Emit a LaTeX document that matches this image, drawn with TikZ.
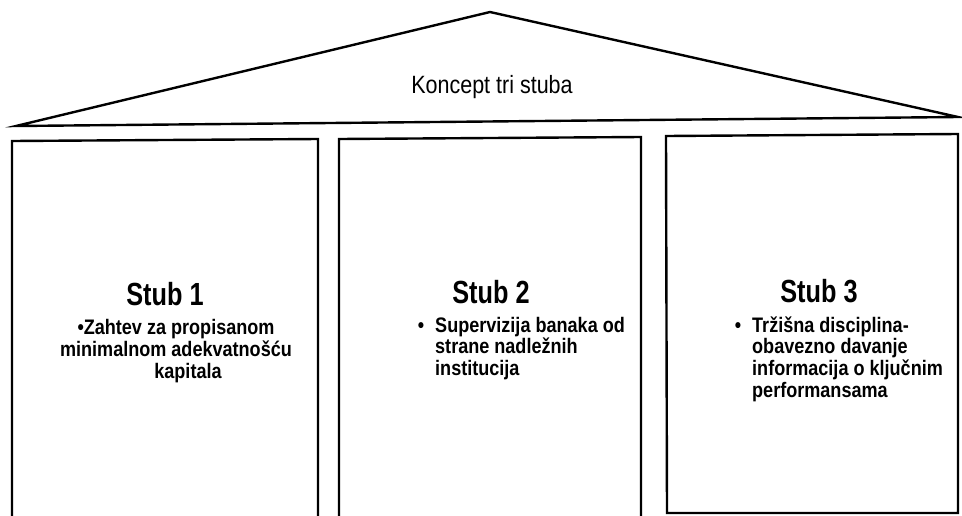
\documentclass[tikz,border=0pt]{standalone}
\usepackage{fontspec}
\setmainfont{Liberation Sans}
\newfontfamily\titlefont[FakeStretch=0.86]{Liberation Sans}
\newfontfamily\headfont[FakeStretch=0.79]{Liberation Sans}
\newfontfamily\bodyfont[FakeStretch=0.86]{Liberation Sans}
\tikzset{
  wall/.style={line width=2.4pt, line join=miter},
  title/.style={font=\titlefont\fontsize{25}{28}\selectfont, inner sep=0pt},
  head/.style={font=\headfont\bfseries\fontsize{32}{36}\selectfont, inner sep=0pt},
  body/.style={font=\bodyfont\bfseries\fontsize{21}{21.7}\selectfont, inner sep=0pt}
}
\begin{document}
\begin{tikzpicture}[x=1pt,y=-1pt]
\useasboundingbox (0,0) rectangle (962,515);
% roof
\coordinate (apex) at (490,12);
\coordinate (rl) at (16,126);
\coordinate (rr) at (958,117);
\draw[wall] (rl) -- (apex) -- (rr) -- cycle;
\node[title, anchor=base] (roof) at (492,93) {Koncept tri stuba};
% pillars
\coordinate (b1tl) at (12,141);
\coordinate (b1tr) at (318,139);
\coordinate (b2tl) at (339,139);
\coordinate (b2tr) at (641,137);
\coordinate (b3tl) at (666,136);
\coordinate (b3tr) at (958,134);
\draw[wall] (12,516) -- (b1tl) -- (b1tr) -- (318,516);
\draw[wall] (339,516) -- (b2tl) -- (b2tr) -- (641,516);
\draw[wall] (b3tl) -- (b3tr) -- (958,513) -- (667,513) -- cycle;
% headings
\node[head, anchor=base] (s1) at (165,305) {Stub 1};
\node[head, anchor=base] (s2) at (491,303) {Stub 2};
\node[head, anchor=base] (s3) at (819,302) {Stub 3};
% box 1 text (centred lines)
\node[body, anchor=base] (t1a) at (176,334) {\textbullet Zahtev za propisanom};
\node[body, anchor=base] (t1b) at (176,356) {minimalnom adekvatnošću};
\node[body, anchor=base] (t1c) at (188,378) {kapitala};
% box 2 text
\node[body, anchor=base] (bu2) at (421,332) {\textbullet};
\node[body, anchor=base west] (t2a) at (435,332) {Supervizija banaka od};
\node[body, anchor=base west] (t2b) at (435,353.7) {strane nadležnih};
\node[body, anchor=base west] (t2c) at (435,375.4) {institucija};
% box 3 text
\node[body, anchor=base] (bu3) at (738,332) {\textbullet};
\node[body, anchor=base west] (t3a) at (752,332) {Tržišna disciplina-};
\node[body, anchor=base west] (t3b) at (752,353.7) {obavezno davanje};
\node[body, anchor=base west] (t3c) at (752,375.4) {informacija o ključnim};
\node[body, anchor=base west] (t3d) at (752,397.1) {performansama};
\end{tikzpicture}
\end{document}
